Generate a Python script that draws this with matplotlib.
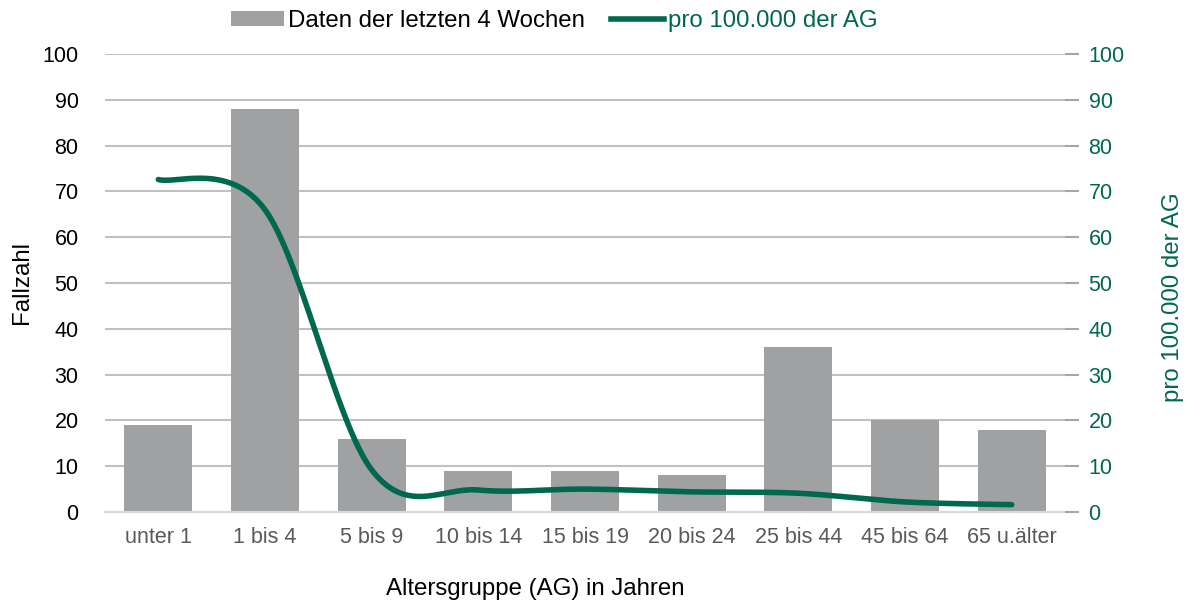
import numpy as np
import matplotlib
matplotlib.use("Agg")
import matplotlib.pyplot as plt
from matplotlib.lines import Line2D
from matplotlib.patches import Patch

plt.rcParams['font.family'] = ['Liberation Sans', 'DejaVu Sans']

categories = ["unter 1", "1 bis 4", "5 bis 9", "10 bis 14", "15 bis 19",
              "20 bis 24", "25 bis 44", "45 bis 64", "65 u.älter"]
fallzahl = [19, 88, 16, 9, 9, 8, 36, 20, 18]
pro100k = [72.6, 66.0, 9.2, 4.8, 5.0, 4.4, 4.1, 2.2, 1.6]
yticks = list(range(0, 101, 10))

BAR = "#a0a1a3"
GREEN = "#00684f"
GRID = "#c0c0c0"
W, H = 1187, 604


def excel_smooth(x, y, n=60):
    x = np.asarray(x, float)
    y = np.asarray(y, float)
    P = np.column_stack([x, y])
    m = len(P)
    out = []
    for i in range(m - 1):
        p0 = P[i - 1] if i > 0 else P[i]
        p1 = P[i]
        p2 = P[i + 1]
        p3 = P[i + 2] if i + 2 < m else P[i + 1]
        c1 = p1 + (p2 - p0) / 6
        c2 = p2 - (p3 - p1) / 6
        t = np.linspace(0, 1, n)[:, None]
        seg = ((1 - t) ** 3) * p1 + 3 * ((1 - t) ** 2) * t * c1 + 3 * (1 - t) * t ** 2 * c2 + t ** 3 * p2
        out.append(seg if i == 0 else seg[1:])
    s = np.vstack(out)
    return s[:, 0], s[:, 1]


fig = plt.figure(figsize=(W / 100, H / 100), dpi=100)
ax = fig.add_axes([105 / W, 1 - 512 / H, 960 / W, 458 / H])
x = np.arange(len(categories))
ax.bar(x, fallzahl, width=0.64, color=BAR, zorder=2)
ax.set_xlim(-0.5, len(categories) - 0.5)
ax.set_ylim(0, 100)
ax.set_yticks(yticks)
ax.set_xticks(x)
ax.set_xticklabels(categories, fontsize=15.5, color="#595959")
ax.tick_params(axis='y', length=0, labelsize=15.5, pad=19, colors="black")
ax.tick_params(axis='x', length=0, pad=11)
ax.yaxis.grid(True, color=GRID, linewidth=1.5, zorder=0)
ax.set_axisbelow(True)
for s in ["top", "right", "left"]:
    ax.spines[s].set_visible(False)
ax.spines["bottom"].set_color("#d9d9d9")
ax.spines["bottom"].set_linewidth(1.5)

ax2 = ax.twinx()
ax2.set_ylim(0, 100)
ax2.set_yticks(yticks)
for s in ["top", "left", "bottom", "right"]:
    ax2.spines[s].set_visible(False)
ax2.tick_params(axis='y', length=10, width=1.5, color="#a6a6a6", labelsize=15.5,
                labelcolor=GREEN, pad=7)
sx, sy = excel_smooth(x, pro100k)
ax2.plot(sx, sy, color=GREEN, linewidth=4, solid_capstyle='round', zorder=5)

fig.text(22 / W, 1 - 283 / H, "Fallzahl", rotation=90, fontsize=17.3,
         ha='center', va='center')
fig.text(535 / W, 1 - 589 / H, "Altersgruppe (AG) in Jahren", fontsize=17.3,
         ha='center', va='center')
fig.text(1173 / W, 1 - 297 / H, "pro 100.000 der AG", rotation=90, fontsize=17.3,
         ha='center', va='center', color=GREEN)

handles = [Patch(facecolor=BAR, edgecolor='none'),
           Line2D([0], [0], color=GREEN, linewidth=4)]
leg = fig.legend(handles, ["Daten der letzten 4 Wochen", "pro 100.000 der AG"],
                 loc='center', bbox_to_anchor=(554 / W, 1 - 21 / H), ncol=2,
                 frameon=False, fontsize=17.3, handlelength=2.2, handleheight=0.6,
                 handletextpad=0.16, columnspacing=1.1)
leg.get_texts()[1].set_color(GREEN)

fig.savefig("out.png", dpi=100)
